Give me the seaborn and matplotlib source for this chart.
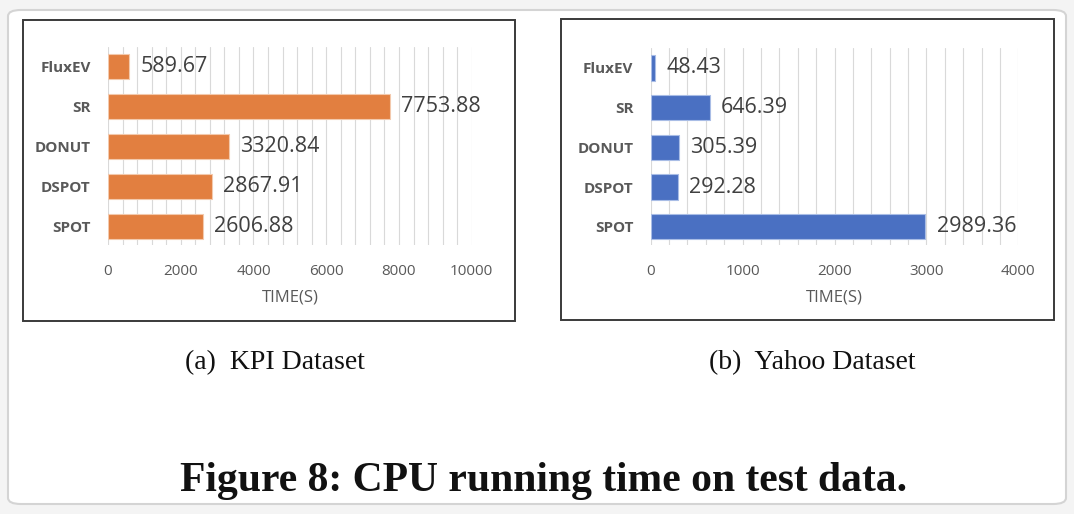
import matplotlib
matplotlib.use("Agg")
import matplotlib.pyplot as plt
import seaborn as sns
import numpy as np
from matplotlib.patches import FancyBboxPatch, Rectangle
from matplotlib.ticker import MultipleLocator

# ---- data ----
categories = ["FluxEV", "SR", "DONUT", "DSPOT", "SPOT"]
kpi_times = [589.67, 7753.88, 3320.84, 2867.91, 2606.88]
yahoo_times = [48.43, 646.39, 305.39, 292.28, 2989.36]
kpi_ticks = [0, 2000, 4000, 6000, 8000, 10000]
yahoo_ticks = [0, 1000, 2000, 3000, 4000]
xlabel_text = "TIME(S)"
caption_a = "(a)  KPI Dataset"
caption_b = "(b)  Yahoo Dataset"
title_text = "Figure 8: CPU running time on test data."

sns.set_theme(style="white")
plt.rcParams['font.family'] = ['Open Sans', 'DejaVu Sans']

W, H = 1074, 514
fig = plt.figure(figsize=(W / 100, H / 100), dpi=100)
fig.patch.set_facecolor("#f4f4f4")

# rounded page card
card = FancyBboxPatch((8 / W, 10 / H), (1058 / W), (494 / H),
                      boxstyle="round,pad=0,rounding_size=0.012",
                      transform=fig.transFigure, facecolor="white",
                      edgecolor="#d4d4d4", linewidth=1.5, zorder=-5)
fig.patches.append(card)

# panel boxes
for (x0, y0, x1, y1) in [(23, 20, 515, 321), (561, 19, 1054, 320)]:
    r = Rectangle((x0 / W, 1 - y1 / H), (x1 - x0) / W, (y1 - y0) / H,
                  transform=fig.transFigure, facecolor="none",
                  edgecolor="#3a3a3a", linewidth=1.4, zorder=-4)
    fig.patches.append(r)

def px_axes(x0, y0, x1, y1):
    return fig.add_axes([x0 / W, 1 - y1 / H, (x1 - x0) / W, (y1 - y0) / H])

ax1 = px_axes(108, 46.5, 471.7, 245)
ax2 = px_axes(650.7, 48, 1018.3, 245)

panels = [
    (ax1, kpi_times, kpi_ticks, "#E27F40", "#f3c9ad", 400),
    (ax2, yahoo_times, yahoo_ticks, "#4A70C2", "#a9bde6", 200),
]

for ax, vals, ticks, color, ecolor, minor in panels:
    sns.barplot(x=vals, y=categories, ax=ax, orient="h", color=color,
                saturation=1, width=0.64, edgecolor=ecolor,
                linewidth=0.8, zorder=3)
    ax.set_facecolor("none")
    ax.set_xlim(ticks[0], ticks[-1])
    ax.set_ylim(4.46, -0.5)
    ax.set_xticks(ticks)
    ax.xaxis.set_minor_locator(MultipleLocator(minor))
    ax.grid(False)
    ax.grid(True, axis="x", which="both", color="#d9d9d9", linewidth=0.8, zorder=0)
    ax.set_axisbelow(True)
    for s in ax.spines.values():
        s.set_visible(False)
    ax.tick_params(axis="x", which="both", length=0, pad=14, labelsize=11, labelcolor="#595959")
    ax.tick_params(axis="y", length=0, pad=12.5)
    for lab in ax.get_yticklabels():
        lab.set_fontweight("bold")
        lab.set_fontsize(11)
        lab.set_color("#595959")
    ax.set_xlabel(xlabel_text, fontsize=12, color="#595959", labelpad=7)
    ax.set_ylabel("")
    ax.bar_label(ax.containers[0], labels=[f"{v:.2f}" for v in vals],
                 padding=8, fontsize=15.5, color="#404040")

serif = ['Liberation Serif', 'DejaVu Serif']
fig.text(275 / W, 1 - 363 / H, caption_a, ha="center", va="center",
         fontsize=20, family=serif, color="#111111")
fig.text(812 / W, 1 - 363 / H, caption_b, ha="center", va="center",
         fontsize=20, family=serif, color="#111111")
fig.text(544 / W, 1 - 481 / H, title_text, ha="center", va="center",
         fontsize=30, family=serif, fontweight="bold", color="#111111")

fig.savefig("out.png", dpi=100)
